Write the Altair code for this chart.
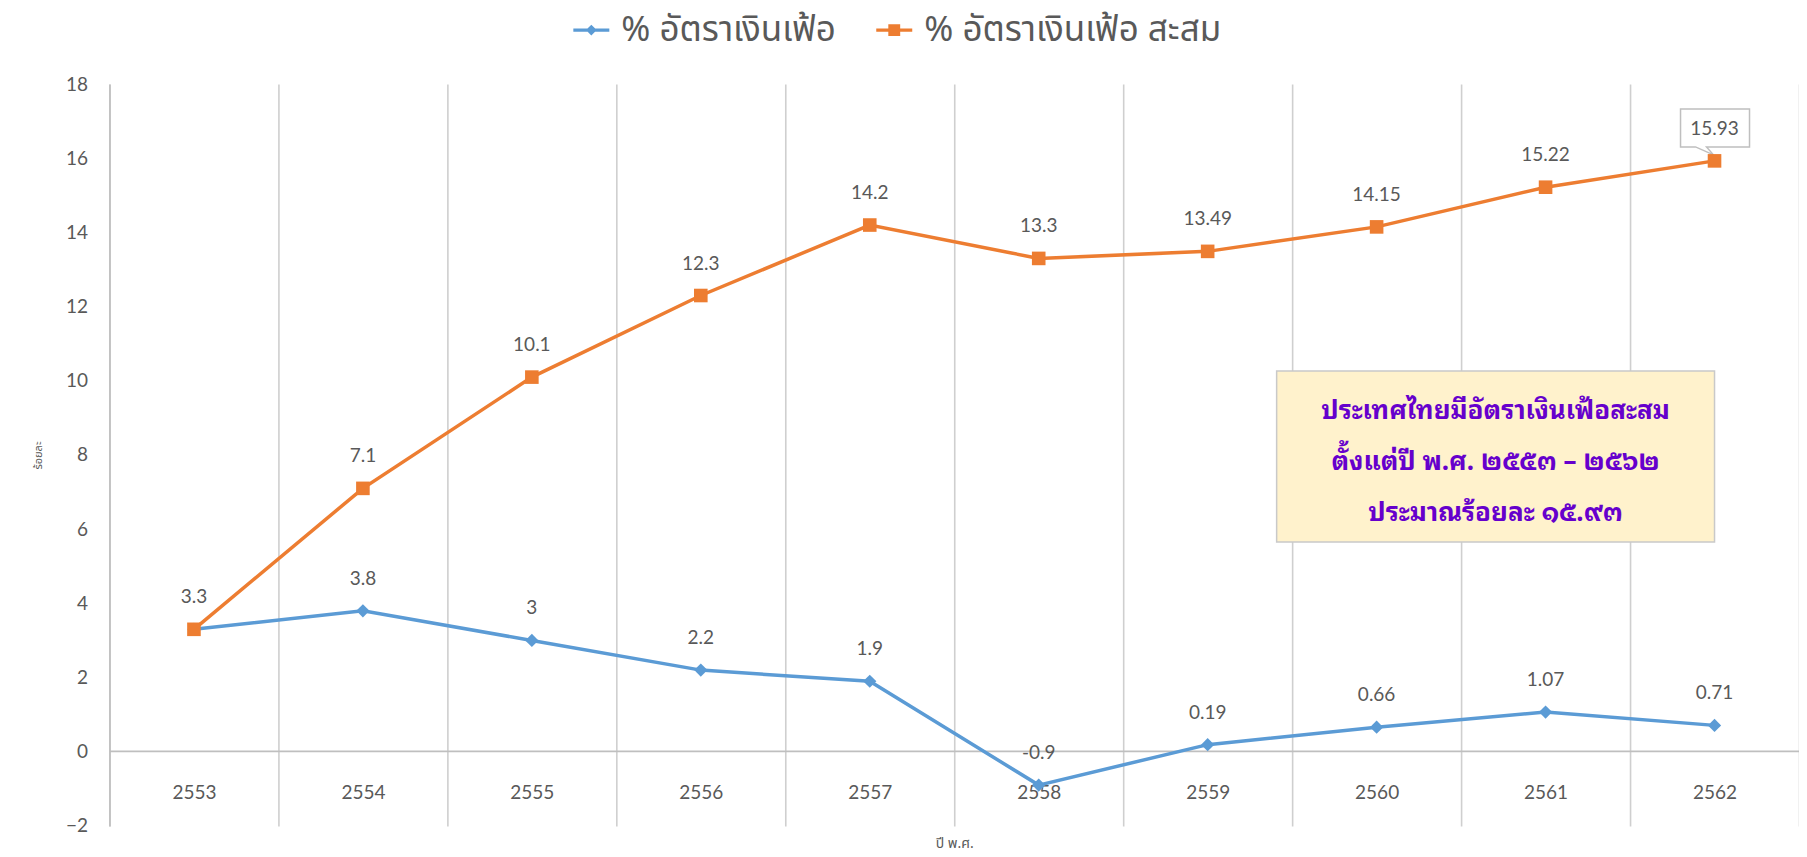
import altair as alt
import pandas as pd

years = ["2553", "2554", "2555", "2556", "2557", "2558", "2559", "2560", "2561", "2562"]
inflation = [3.3, 3.8, 3, 2.2, 1.9, -0.9, 0.19, 0.66, 1.07, 0.71]
cumulative = [3.3, 7.1, 10.1, 12.3, 14.2, 13.3, 13.49, 14.15, 15.22, 15.93]
series_names = ["% อัตราเงินเฟ้อ", "% อัตราเงินเฟ้อ สะสม"]
series_colors = ["#5B9BD5", "#ED7D31"]
y_ticks = [-2, 0, 2, 4, 6, 8, 10, 12, 14, 16, 18]
note_lines = ["ประเทศไทยมีอัตราเงินเฟ้อสะสม", "ตั้งแต่ปี พ.ศ. ๒๕๕๓ – ๒๕๖๒", "ประมาณร้อยละ ๑๕.๙๓"]
x_title = "ปี พ.ศ."
y_title = "ร้อยละ"

rows = []
for name, vals in zip(series_names, [inflation, cumulative]):
    for yr, v in zip(years, vals):
        rows.append({"year": yr, "series": name, "value": v, "label": f"{v:g}"})
df = pd.DataFrame(rows)

W, H = 1690, 742
LABEL_FONT = "Lato"
THAI_FONT = "Noto Sans Thai, Noto Sans, sans-serif"
GREY = "#595959"

xscale = alt.Scale(type="band", domain=years, paddingInner=0, paddingOuter=0)
yscale = alt.Scale(domain=[-2, 18], nice=False, zero=False)

x_enc = alt.X("year:N", scale=xscale, sort=years,
              axis=alt.Axis(title=x_title, tickBand="extent", grid=True, gridColor="#CFCFCF",
                            gridWidth=1.6, ticks=False, domainColor="#BFBFBF", domainWidth=1.6,
                            labelAngle=0, labelFontSize=19, labelColor=GREY, labelFont=LABEL_FONT,
                            labelPadding=33, offset=-75, titleFontSize=14, titleColor=GREY,
                            titleFont=THAI_FONT, titleFontWeight="normal",
                            titleX=845, titleY=93, titleBaseline="middle"))
y_enc = alt.Y("value:Q", scale=yscale,
              axis=alt.Axis(values=y_ticks, grid=False, ticks=False, domainColor="#BFBFBF",
                            domainWidth=1.6, labelPadding=22, labelFontSize=19, labelColor=GREY,
                            labelFont=LABEL_FONT, title=y_title, titleFontSize=11,
                            titleColor=GREY, titleFont=THAI_FONT, titleFontWeight="normal",
                            titleX=-71, titleY=371, titleAngle=-90,
                            titleAlign="center", titleBaseline="middle"))

base = alt.Chart(df)

# one line layer per series, each with its fixed colour (no stroke legend to merge)
line_blue = base.transform_filter(alt.datum.series == series_names[0]).mark_line(
    strokeWidth=3.5, color=series_colors[0]
).encode(x=x_enc, y=y_enc)
line_orange = base.transform_filter(alt.datum.series == series_names[1]).mark_line(
    strokeWidth=3.5, color=series_colors[1]
).encode(x="year:N", y="value:Q")

callout_path = "M-3.4,-5.2L3.5,-5.2L3.5,-1.4L-0.8,-1.4L-0.1,-0.6L-1.9,-1.4L-3.4,-1.4Z"
callout = base.transform_filter(
    (alt.datum.year == years[-1]) & (alt.datum.series == series_names[1])
).mark_point(shape=callout_path, size=400, filled=True, fill="white", stroke="#BFBFBF",
             strokeWidth=1.5, opacity=1).encode(x="year:N", y="value:Q")

sym_blue = "M-1,-0.09L1,-0.09L1,0.09L-1,0.09Z M0,-0.3L0.3,0L0,0.3L-0.3,0Z"
sym_orange = "M-1,-0.09L1,-0.09L1,0.09L-1,0.09Z M-0.33,-0.33L0.33,-0.33L0.33,0.33L-0.33,0.33Z"

legend_def = alt.Legend(
    title=None, orient="none", legendX=463, legendY=-73, direction="horizontal",
    labelFontSize=35, labelColor=GREY, labelFont=THAI_FONT, columnPadding=37, labelOffset=11,
    symbolSize=1296, symbolOpacity=1, labelLimit=500,
)

legend_layer = base.mark_point(filled=True, opacity=1, size=8).encode(
    x="year:N", y="value:Q",
    color=alt.Color("series:N", scale=alt.Scale(domain=series_names, range=series_colors), legend=legend_def),
    shape=alt.Shape("series:N", scale=alt.Scale(domain=series_names, range=[sym_blue, sym_orange]), legend=legend_def),
)

pts_blue = base.transform_filter(alt.datum.series == series_names[0]).mark_point(
    filled=True, opacity=1, size=175, shape="diamond", color=series_colors[0]
).encode(x="year:N", y="value:Q")
pts_orange = base.transform_filter(alt.datum.series == series_names[1]).mark_point(
    filled=True, opacity=1, size=185, shape="square", color=series_colors[1]
).encode(x="year:N", y="value:Q")

# the first year's two labels coincide (both 3.3): keep a single one
labels = base.transform_filter(
    ~((alt.datum.year == years[0]) & (alt.datum.series == series_names[1]))
).mark_text(dy=-32, fontSize=19, color=GREY, font=LABEL_FONT, baseline="middle").encode(
    x="year:N", y="value:Q", text="label:N"
)

note_box = alt.Chart(alt.Data(values=[{}])).mark_rect(
    fill="#FFF2CC", stroke="#C9C9C9", strokeWidth=1.5
).encode(x=alt.value(1167.5), x2=alt.value(1605.5), y=alt.value(287), y2=alt.value(458))

note_text = alt.Chart(pd.DataFrame({"note": ["\n".join(note_lines)]})).mark_text(
    align="center", baseline="middle", fontSize=26, fontWeight="bold", color="#6600CC",
    lineBreak="\n", lineHeight=51, font="Tahoma, Noto Sans Thai Looped, Noto Serif Thai, sans-serif"
).encode(x=alt.value(1386.5), y=alt.value(327), text="note:N")

chart = alt.layer(line_blue, line_orange, callout, legend_layer, pts_blue, pts_orange, labels,
                  note_box, note_text).properties(
    width=W, height=H,
    autosize=alt.AutoSizeParams(type="none"),
    padding={"left": 101.5, "top": 76, "right": 0, "bottom": 30},
).configure_view(stroke=None)

chart.save("out.html", embed_options={"renderer": "svg", "actions": False})
